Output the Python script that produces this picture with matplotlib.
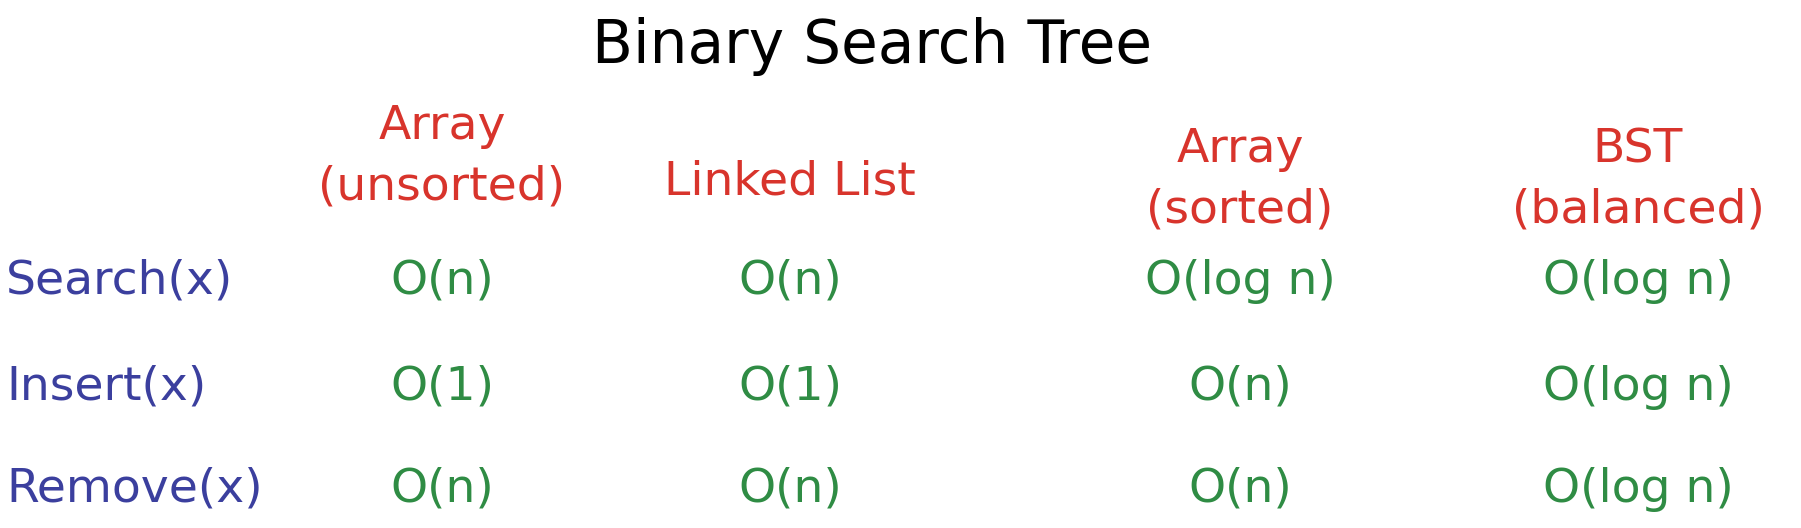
import matplotlib.pyplot as plt

# table content
title = "Binary Search Tree"
structures = ["Array\n(unsorted)", "Linked List", "Array\n(sorted)", "BST\n(balanced)"]
operations = ["Search(x)", "Insert(x)", "Remove(x)"]
search_cost = ["O(n)", "O(n)", "O(log n)", "O(log n)"]
insert_cost = ["O(1)", "O(1)", "O(n)", "O(log n)"]
remove_cost = ["O(n)", "O(n)", "O(n)", "O(log n)"]

# layout (pixel coords of the 1801x528 canvas)
col_x = [442, 790, 1240, 1638]
head_y = [157, 182, 180, 180]
row_y = [281, 387, 489]

blue = '#3b3f9e'
red = '#d8342c'
green = '#2f8c44'

plt.rcParams['font.family'] = ['DejaVu Sans']

fig = plt.figure(figsize=(18.01, 5.28), dpi=100)
ax = fig.add_axes([0, 0, 1, 1])
ax.set_xlim(0, 1801)
ax.set_ylim(528, 0)
ax.axis('off')

ax.text(872, 46, title, fontsize=43, color='black', ha='center', va='center')

for x, y, name in zip(col_x, head_y, structures):
    ax.text(x, y, name, fontsize=34, color=red, ha='center', va='center',
            linespacing=1.45)

for y, op in zip(row_y, operations):
    ax.text(6, y, op, fontsize=34, color=blue, ha='left', va='center')

for y, costs in zip(row_y, [search_cost, insert_cost, remove_cost]):
    for x, c in zip(col_x, costs):
        ax.text(x, y, c, fontsize=34, color=green, ha='center', va='center')

fig.savefig('out.png', dpi=100, facecolor='white')
